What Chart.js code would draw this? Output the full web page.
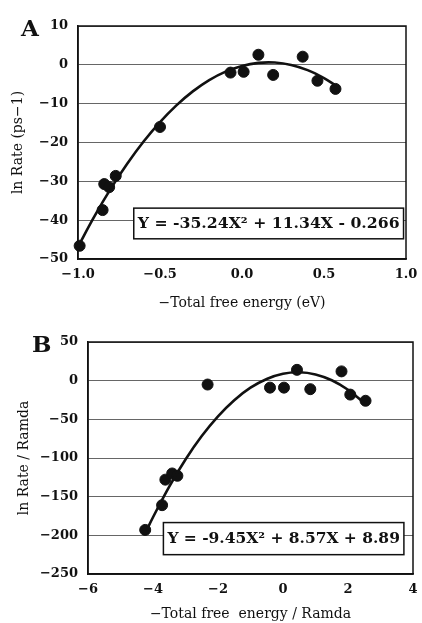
<!DOCTYPE html>
<html><head><meta charset="utf-8">
<script src="https://cdn.jsdelivr.net/npm/chart.js@4.4.0/dist/chart.umd.min.js"></script>
<style>
body{margin:0;background:#fff;width:422px;height:623px;overflow:hidden;position:relative;}
canvas{position:absolute;left:0;}
#ca{top:0}
#cb{top:312px}
.lab{position:absolute;font-weight:bold;font-size:23px;line-height:1;font-family:"DejaVu Serif",serif;color:#111;}
</style></head><body>
<canvas id="ca" width="422" height="312"></canvas>
<canvas id="cb" width="422" height="311"></canvas>
<div class="lab" style="left:21px;top:16px">A</div>
<div class="lab" style="left:32px;top:332px">B</div>
<script>
// ---- Panel A data ----
const aDotsX = [-0.99, -0.85, -0.84, -0.81, -0.77, -0.50, -0.07, 0.01, 0.10, 0.19, 0.37, 0.46, 0.57];
const aDotsY = [-46.6, -37.4, -30.7, -31.5, -28.6, -16.0, -2.0, -1.8, 2.6, -2.6, 2.1, -4.1, -6.2];
const aCurveX = [-1.0, -0.9, -0.8, -0.7, -0.6, -0.5, -0.4, -0.3, -0.2, -0.1, 0.0, 0.1, 0.2, 0.3, 0.4, 0.5, 0.57];
const aCurveY = [-46.85, -39.02, -31.89, -25.48, -19.76, -14.75, -10.44, -6.84, -3.94, -1.75, -0.27, 0.51, 0.59, -0.04, -1.37, -3.41, -5.26];
const aXTicks = [-1.0, -0.5, 0.0, 0.5, 1.0];
const aYTicks = [10, 0, -10, -20, -30, -40, -50];
const aEquation = "Y = -35.24X\u00B2 + 11.34X - 0.266";
const aXTitle = "\u2212Total free energy (eV)";
const aYTitle = "ln Rate (ps\u22121)";

// ---- Panel B data ----
const bDotsX = [-4.24, -3.72, -3.62, -3.41, -3.25, -2.32, -0.40, 0.03, 0.43, 0.84, 1.80, 2.07, 2.54];
const bDotsY = [-193, -161, -128, -120, -123, -5, -9, -9, 14, -11, 12, -18, -26];
const bCurveX = [-4.2, -4.0, -3.5, -3.0, -2.5, -2.0, -1.5, -1.0, -0.5, 0.0, 0.5, 1.0, 1.5, 2.0, 2.5];
const bCurveY = [-193.8, -176.6, -136.9, -101.9, -71.6, -46.1, -25.2, -9.1, 2.2, 8.9, 10.8, 8.0, 0.5, -11.8, -28.7];
const bXTicks = [-6, -4, -2, 0, 2, 4];
const bYTicks = [50, 0, -50, -100, -150, -200, -250];
const bEquation = "Y = -9.45X\u00B2 + 8.57X + 8.89";
const bXTitle = "\u2212Total free  energy / Ramda";
const bYTitle = "ln Rate / Ramda";

const FONT = '"DejaVu Serif", serif';

const framePlugin = {
  id: 'frame',
  beforeDatasetsDraw(chart) {
    const {ctx, chartArea: a} = chart;
    ctx.save();
    ctx.strokeStyle = '#111';
    ctx.lineWidth = 1.5;
    ctx.strokeRect(a.left, a.top, a.right - a.left, a.bottom - a.top);
    ctx.restore();
  }
};

const eqPlugin = {
  id: 'eqbox',
  afterDatasetsDraw(chart, args, o) {
    const {ctx, scales: {x, y}} = chart;
    const x1 = x.getPixelForValue(o.x0), x2 = x.getPixelForValue(o.x1);
    const y1 = y.getPixelForValue(o.y0), y2 = y.getPixelForValue(o.y1);
    ctx.save();
    ctx.fillStyle = '#fff';
    ctx.fillRect(x1, y1, x2 - x1, y2 - y1);
    ctx.strokeStyle = '#111';
    ctx.lineWidth = 1.5;
    ctx.strokeRect(x1, y1, x2 - x1, y2 - y1);
    ctx.font = 'bold 14px ' + FONT;
    ctx.fillStyle = '#111';
    ctx.textBaseline = 'middle';
    const w = ctx.measureText(o.text).width;
    const target = (x2 - x1) - 8;
    ctx.translate(x1 + 4, (y1 + y2) / 2 + 1);
    ctx.scale(target / w, 1);
    ctx.fillText(o.text, 0, 0);
    ctx.restore();
  }
};

function fmt(v, dec) {
  return (dec ? Number(v).toFixed(dec) : String(v)).replace('-', '\u2212');
}

function makeChart(id, cfg) {
  const dots = cfg.dotsX.map((v, i) => ({x: v, y: cfg.dotsY[i]}));
  const curve = cfg.curveX.map((v, i) => ({x: v, y: cfg.curveY[i]}));
  return new Chart(document.getElementById(id), {
    type: 'scatter',
    data: {
      datasets: [
        {data: curve, showLine: true, borderColor: '#111', borderWidth: 2.6, pointRadius: 0, tension: 0.4, fill: false, clip: false},
        {data: dots, backgroundColor: '#111', borderColor: '#111', pointRadius: 5.5, pointHoverRadius: 5.5, clip: false}
      ]
    },
    options: {
      responsive: false,
      animation: false,
      devicePixelRatio: 1,
      events: [],
      layout: {padding: cfg.padding},
      plugins: {
        legend: {display: false},
        tooltip: {enabled: false},
        eqbox: cfg.box
      },
      scales: {
        x: {
          type: 'linear', min: cfg.xTicks[0], max: cfg.xTicks[cfg.xTicks.length - 1],
          afterBuildTicks: s => { s.ticks = cfg.xTicks.map(v => ({value: v})); },
          afterFit: s => { s.height = cfg.xHeight; s.paddingLeft = 0; s.paddingRight = 0; },
          grid: {display: false, drawTicks: false},
          border: {display: true, color: '#111', width: 1.5},
          ticks: {color: '#111', padding: 8, maxRotation: 0, autoSkip: false,
                  font: {family: FONT, size: 13, weight: 'bold'},
                  callback: v => fmt(v, cfg.xDec)},
          title: {display: true, text: cfg.xTitle, color: '#111', padding: {top: 0, bottom: 0},
                  font: {family: FONT, size: 14}}
        },
        y: {
          type: 'linear', min: cfg.yTicks[cfg.yTicks.length - 1], max: cfg.yTicks[0],
          afterBuildTicks: s => { s.ticks = cfg.yTicks.slice().reverse().map(v => ({value: v})); },
          afterFit: s => { s.width = cfg.yWidth; s.paddingTop = 0; s.paddingBottom = 0; },
          grid: {display: true, color: '#666', lineWidth: 1, drawTicks: false},
          border: {display: true, color: '#111', width: 1.5},
          ticks: {color: '#111', padding: 10, autoSkip: false,
                  font: {family: FONT, size: 13, weight: 'bold'},
                  callback: v => fmt(v, 0)},
          title: {display: true, text: cfg.yTitle, color: '#111', padding: {top: cfg.yTitlePad, bottom: 0},
                  font: {family: FONT, size: 14}}
        }
      }
    },
    plugins: [framePlugin, eqPlugin]
  });
}

makeChart('ca', {
  dotsX: aDotsX, dotsY: aDotsY, curveX: aCurveX, curveY: aCurveY,
  xTicks: aXTicks, yTicks: aYTicks, xDec: 1,
  xTitle: aXTitle, yTitle: aYTitle,
  padding: {left: 0, right: 16, top: 26, bottom: 0},
  xHeight: 53, yWidth: 78, yTitlePad: 10,
  box: {x0: -0.66, x1: 0.985, y0: -36.9, y1: -44.8, text: aEquation}
});

makeChart('cb', {
  dotsX: bDotsX, dotsY: bDotsY, curveX: bCurveX, curveY: bCurveY,
  xTicks: bXTicks, yTicks: bYTicks, xDec: 0,
  xTitle: bXTitle, yTitle: bYTitle,
  padding: {left: 0, right: 9, top: 30, bottom: 0},
  xHeight: 49, yWidth: 88, yTitlePad: 16,
  box: {x0: -3.68, x1: 3.72, y0: -183.5, y1: -225, text: bEquation}
});
</script>
</body></html>
